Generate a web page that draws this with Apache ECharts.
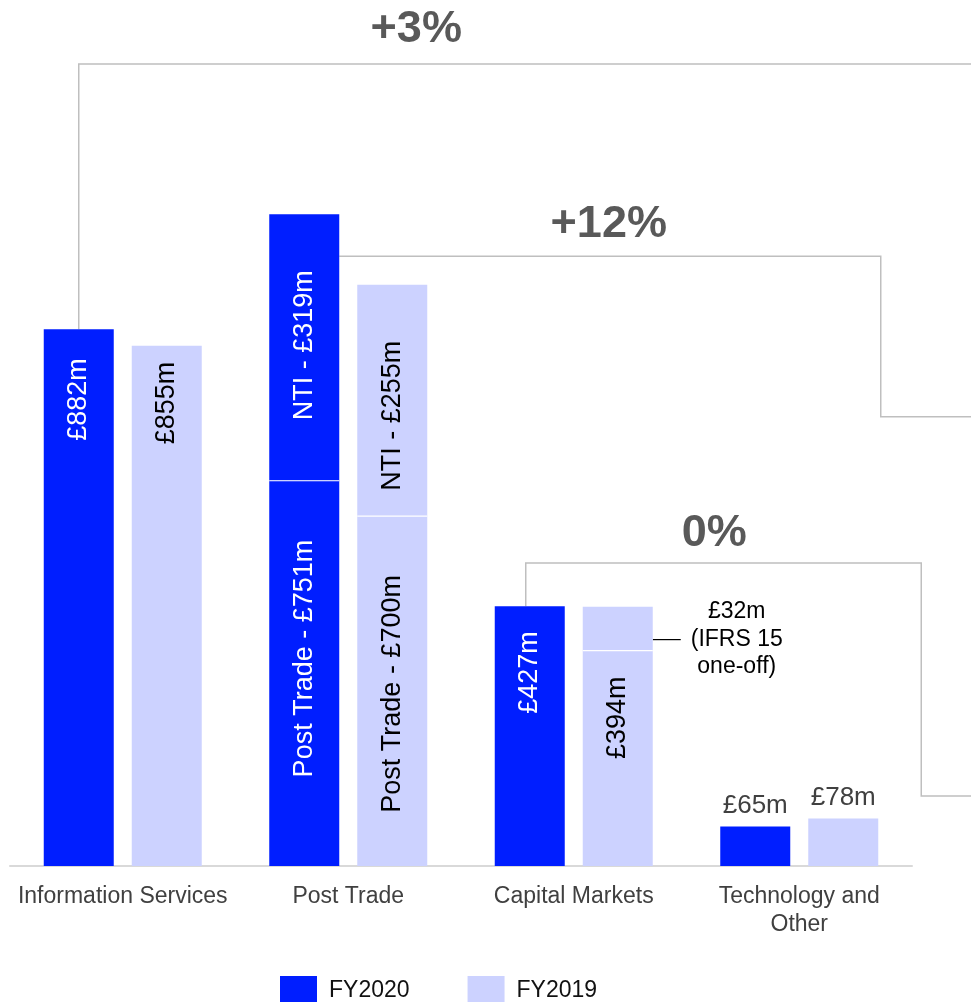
<!DOCTYPE html>
<html><head><meta charset="utf-8">
<script src="https://cdn.jsdelivr.net/npm/echarts@6/dist/echarts.min.js"></script>
<style>html,body{margin:0;padding:0;background:#fff}#c{width:971px;height:1002px}</style>
</head><body><div id="c"></div>
<script>
// ---- data (£m, segment heights as drawn) ----
const categories = ['Information Services', 'Post Trade', 'Capital Markets', 'Technology and\nOther'];
const seriesNames = ['FY2020', 'FY2019'];
const fy2020Lower = [882, 633, 427, 65];
const fy2020Upper = [null, 438, null, null];
const fy2019Lower = [855, 575, 354, 78];
const fy2019Upper = [null, 380, 72, null];
const fy2020LowerText = ['£882m', 'Post Trade - £751m', '£427m', '£65m'];
const fy2020UpperText = ['', 'NTI - £319m', '', ''];
const fy2019LowerText = ['£855m', 'Post Trade - £700m', '£394m', '£78m'];
const fy2019UpperText = ['', 'NTI - £255m', '', ''];
const growthLabels = ['+3%', '+12%', '0%'];
const bracketLevels = [[1318], [1002, 738], [498, 115]];
const oneOffNote = '£32m\n(IFRS 15\none-off)';

// ---- style ----
const FONT = "'Liberation Sans', Arial, sans-serif";
const C2020 = '#001EFF', C2019 = '#CCD2FF';
const BAR_W = 70, GAP = 18;
const insideDist2020 = [29, 59, 25, null];
const insideDist2019 = [16, 59, 26, null];
const upperDist = [null, 56, null, null];

function rotLabel(text, color, dist) {
  return {show: true, formatter: text, position: 'insideTop', distance: dist, rotate: 90,
    align: 'right', verticalAlign: 'middle', color: color, fontSize: 27, fontFamily: FONT};
}
function topLabel(text) {
  return {show: true, formatter: text, position: 'top', distance: 8, color: '#404040', fontSize: 26, fontFamily: FONT};
}
function buildLower(vals, texts, color, dists) {
  return vals.map((v, i) => ({
    value: v,
    label: dists[i] == null ? topLabel(texts[i]) : rotLabel(texts[i], color, dists[i])
  }));
}
function buildUpper(vals, texts, color) {
  return vals.map((v, i) => v == null ? {value: null} : ({
    value: v,
    label: texts[i] ? rotLabel(texts[i], color, upperDist[i] || 56) : {show: false}
  }));
}

const option = {
  animation: false,
  backgroundColor: '#ffffff',
  textStyle: {fontFamily: FONT},
  grid: {left: 10, right: 59, top: 14, bottom: 136, containLabel: false},
  legend: {
    data: seriesNames, top: 976, left: 280, padding: 0,
    itemWidth: 37, itemHeight: 30, itemGap: 58, icon: 'rect',
    textStyle: {fontSize: 23, color: '#111', fontFamily: FONT, padding: [0, 0, 0, 7]}
  },
  xAxis: {
    type: 'category', data: categories,
    axisLine: {lineStyle: {color: '#d9d9d9', width: 2}},
    axisTick: {show: false},
    axisLabel: {fontSize: 23, color: '#404040', lineHeight: 28, margin: 17, fontFamily: FONT, interval: 0}
  },
  yAxis: {type: 'value', min: 0, max: 1400, show: false, splitLine: {show: false}},
  series: [
    {name: seriesNames[0], type: 'bar', stack: 'a', barWidth: BAR_W, barGap: (GAP / BAR_W * 100) + '%',
      itemStyle: {color: C2020}, data: buildLower(fy2020Lower, fy2020LowerText, '#ffffff', insideDist2020)},
    {name: seriesNames[0], type: 'bar', stack: 'a', barWidth: BAR_W,
      itemStyle: {color: C2020}, data: buildUpper(fy2020Upper, fy2020UpperText, '#ffffff')},
    {name: seriesNames[1], type: 'bar', stack: 'b', barWidth: BAR_W, barGap: (GAP / BAR_W * 100) + '%',
      itemStyle: {color: C2019}, data: buildLower(fy2019Lower, fy2019LowerText, '#000000', insideDist2019)},
    {name: seriesNames[1], type: 'bar', stack: 'b', barWidth: BAR_W,
      itemStyle: {color: C2019}, data: buildUpper(fy2019Upper, fy2019UpperText, '#000000')}
  ]
};

const chart = echarts.init(document.getElementById('c'), null, {renderer: 'canvas'});
chart.setOption(option);

// ---- annotations anchored to data ----
const W = chart.getWidth();
const P = (cat, val) => chart.convertToPixel({gridIndex: 0}, [cat, val]);
const cx = i => P(i, 0)[0];
const Y = v => P(0, v)[1];
const off = (BAR_W + GAP) / 2;
const lineStyle = {stroke: '#bfbfbf', lineWidth: 1.5, fill: null};

const b1x = cx(0) - off;
const b2x = cx(1) - off + BAR_W / 2;
const b2v = cx(3) + 81.5;
const b3x = cx(2) - off - 4;
const b3v = cx(3) + 122;

const total2020 = i => fy2020Lower[i] + (fy2020Upper[i] || 0);

const growthStyle = {fontSize: 45, fontWeight: 'bold', fill: '#595959', fontFamily: FONT, align: 'center', verticalAlign: 'middle'};
const noteY = Y(fy2019Lower[2] + fy2019Upper[2] * 0.25);

// white separators between stacked segments
const seps = [];
categories.forEach((c, i) => {
  if (fy2020Upper[i] != null) {
    const y = Y(fy2020Lower[i]);
    seps.push({type: 'line', silent: true, z: 100, shape: {x1: cx(i) - off - BAR_W / 2, y1: y, x2: cx(i) - off + BAR_W / 2, y2: y}, style: {stroke: '#ffffff', lineWidth: 1.2}});
  }
  if (fy2019Upper[i] != null) {
    const y = Y(fy2019Lower[i]);
    seps.push({type: 'line', silent: true, z: 100, shape: {x1: cx(i) + off - BAR_W / 2, y1: y, x2: cx(i) + off + BAR_W / 2, y2: y}, style: {stroke: '#ffffff', lineWidth: 1.2}});
  }
});

chart.setOption({graphic: seps.concat([
  {type: 'polyline', silent: true, shape: {points: [[b1x, Y(total2020(0))], [b1x, Y(bracketLevels[0][0])], [W, Y(bracketLevels[0][0])]]}, style: lineStyle},
  {type: 'polyline', silent: true, shape: {points: [[b2x, Y(bracketLevels[1][0])], [b2v, Y(bracketLevels[1][0])], [b2v, Y(bracketLevels[1][1])], [W, Y(bracketLevels[1][1])]]}, style: lineStyle},
  {type: 'polyline', silent: true, shape: {points: [[b3x, Y(total2020(2))], [b3x, Y(bracketLevels[2][0])], [b3v, Y(bracketLevels[2][0])], [b3v, Y(bracketLevels[2][1])], [W, Y(bracketLevels[2][1])]]}, style: lineStyle},
  {type: 'text', silent: true, x: cx(1) + 68, y: Y(bracketLevels[0][0]) - 34, style: Object.assign({text: growthLabels[0]}, growthStyle)},
  {type: 'text', silent: true, x: cx(2) + 35, y: Y(bracketLevels[1][0]) - 32, style: Object.assign({text: growthLabels[1]}, growthStyle)},
  {type: 'text', silent: true, x: cx(2) + 140.6, y: Y(bracketLevels[2][0]) - 29, style: Object.assign({text: growthLabels[2]}, growthStyle)},
  {type: 'line', silent: true, shape: {x1: cx(2) + off + BAR_W / 2, y1: noteY, x2: cx(2) + off + BAR_W / 2 + 28, y2: noteY}, style: {stroke: '#000', lineWidth: 1.2}},
  {type: 'text', silent: true, x: cx(2) + 163, y: noteY, style: {text: oneOffNote, fontSize: 23, lineHeight: 27.5, fill: '#000', fontFamily: FONT, align: 'center', verticalAlign: 'middle'}}
])});
</script></body></html>
